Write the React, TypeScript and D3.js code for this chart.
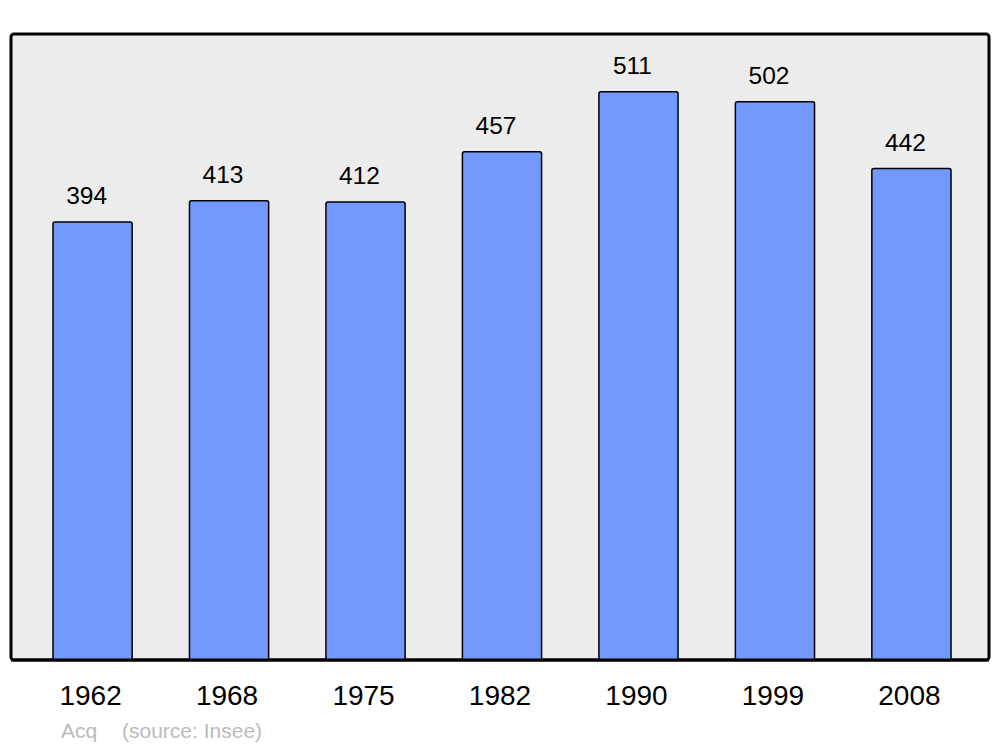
import React from 'react';
import * as d3 from 'd3';

const years = ['1962', '1968', '1975', '1982', '1990', '1999', '2008'];
const population = [394, 413, 412, 457, 511, 502, 442];

const W = 1000;
const H = 747;
const frame = { left: 11, top: 34, right: 989, bottom: 660 };

export default function App() {
  const x = d3.scaleBand<string>()
    .domain(years)
    .range([53, 951])
    .paddingInner(0.42)
    .paddingOuter(0);

  const y = d3.scaleLinear()
    .domain([0, 563])
    .range([frame.bottom, frame.top]);

  const font = '"Liberation Sans", Arial, sans-serif';

  return (
    <svg width={W} height={H} style={{ position: 'absolute', left: 0, top: 0 }} fontFamily={font}>
      <rect x={0} y={0} width={W} height={H} fill="#ffffff" />
      <rect
        x={frame.left}
        y={frame.top}
        width={frame.right - frame.left}
        height={frame.bottom - frame.top}
        rx={3}
        fill="#ececec"
        stroke="#000"
        strokeWidth={3}
      />
      {years.map((yr, i) => {
        const v = population[i];
        const bx = x(yr)!;
        const bw = x.bandwidth();
        const cx = bx + bw / 2;
        return (
          <g key={yr}>
            <path
              d={`M${bx},${frame.bottom} L${bx},${y(v) + 2} Q${bx},${y(v)} ${bx + 2},${y(v)} L${bx + bw - 2},${y(v)} Q${bx + bw},${y(v)} ${bx + bw},${y(v) + 2} L${bx + bw},${frame.bottom}`}
              fill="#7399ff"
              stroke="#000"
              strokeWidth={1.5}
            />
            <text x={cx - 6} y={y(v) - 18} textAnchor="middle" fontSize={24.5} fill="#000">
              {v}
            </text>
            <text x={cx - 2} y={705} textAnchor="middle" fontSize={28} fill="#000">
              {yr}
            </text>
          </g>
        );
      })}
      <line x1={frame.left} x2={frame.right} y1={frame.bottom} y2={frame.bottom} stroke="#000" strokeWidth={3} />
      <text x={61} y={738} fontSize={21} fill="#bbbbbb">Acq</text>
      <text x={122} y={738} fontSize={21} fill="#bbbbbb">(source: Insee)</text>
    </svg>
  );
}
